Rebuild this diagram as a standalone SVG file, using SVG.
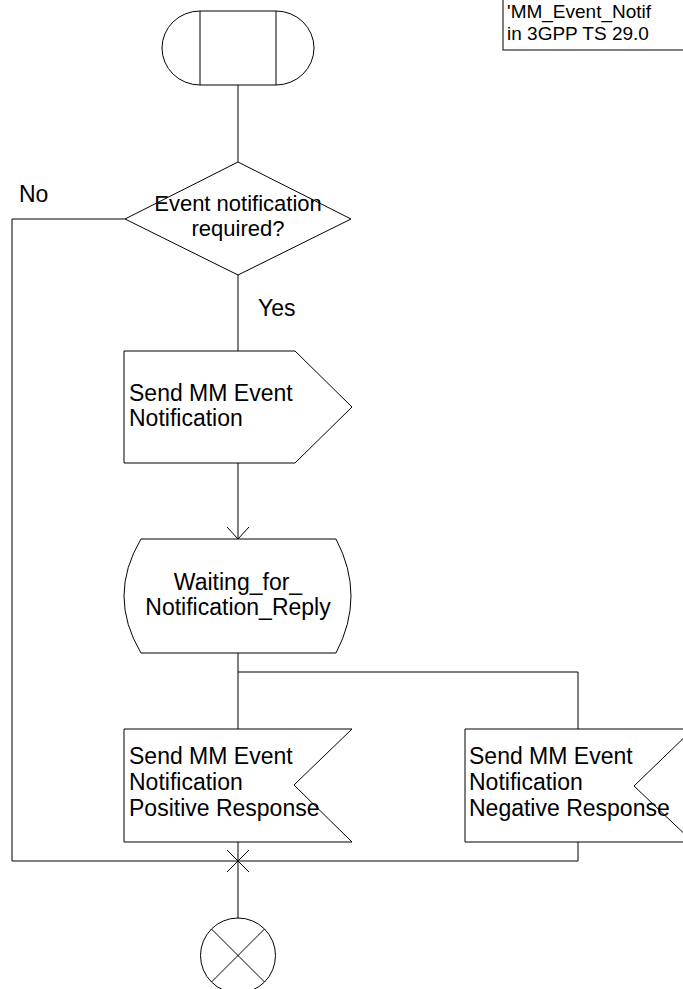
<svg xmlns="http://www.w3.org/2000/svg" width="683" height="989" viewBox="0 0 683 989">
<style>
.s{fill:#fff;stroke:#000;stroke-width:1}
.l{fill:none;stroke:#000;stroke-width:1}
.t{font-family:"Liberation Sans",Arial,sans-serif;font-size:23px;fill:#000}
.d{font-family:"Liberation Sans",Arial,sans-serif;font-size:22px;fill:#000}
.n{font-family:"Liberation Sans",Arial,sans-serif;font-size:19px;fill:#000}
.c{text-anchor:middle}
</style>
<rect width="683" height="989" fill="#fff"/>
<g id="connectors">
<line class="l" x1="238" y1="85" x2="238" y2="162"/>
<line class="l" x1="238" y1="275" x2="238" y2="351"/>
<line class="l" x1="238" y1="463" x2="238" y2="539"/>
<polyline class="l" points="227,527 238,539 249,527"/>
<line class="l" x1="238" y1="653" x2="238" y2="729"/>
<polyline class="l" points="238,672 578,672 578,729"/>
<line class="l" x1="578" y1="842" x2="578" y2="861"/>
<line class="l" x1="238" y1="842" x2="238" y2="918"/>
<polyline class="l" points="125,219 12,219 12,861 578,861"/>
<line class="l" x1="227" y1="850" x2="249" y2="872"/>
<line class="l" x1="249" y1="850" x2="227" y2="872"/>
<text class="t" x="19" y="202">No</text>
<text class="t" x="258" y="316">Yes</text>
</g>
<g id="note">
<rect class="s" x="503" y="-10" width="200" height="60"/>
<text class="n" x="507" y="18">'MM_Event_Notif</text>
<text class="n" x="507" y="40">in 3GPP TS 29.0</text>
</g>
<g id="start">
<path class="s" d="M200,11 L276,11 A38,37 0 0 1 276,85 L200,85 A38,37 0 0 1 200,11 Z"/>
<line class="l" x1="200" y1="11" x2="200" y2="85"/>
<line class="l" x1="276" y1="11" x2="276" y2="85"/>
</g>
<g id="decision">
<polygon class="s" points="238,162 351,219 238,275 125,219"/>
<text class="d c" x="238" y="211">Event notification</text>
<text class="d c" x="238" y="236">required?</text>
</g>
<g id="send">
<polygon class="s" points="124,351 295,351 352,407 295,463 124,463"/>
<text class="t" x="129" y="401">Send MM Event</text>
<text class="t" x="129" y="426">Notification</text>
</g>
<g id="waiting">
<path class="s" d="M141,539 L336,539 Q366,596 336,653 L141,653 Q107,596 141,539 Z"/>
<text class="t c" x="238" y="590">Waiting_for_</text>
<text class="t c" x="238" y="615">Notification_Reply</text>
</g>
<g id="positive">
<polygon class="s" points="124,729 352,729 294,785 352,842 124,842"/>
<text class="t" x="129" y="764">Send MM Event</text>
<text class="t" x="129" y="790">Notification</text>
<text class="t" x="129" y="816">Positive Response</text>
</g>
<g id="negative">
<polygon class="s" points="465,729 693,729 634,786 693,842 465,842"/>
<text class="t" x="469" y="764">Send MM Event</text>
<text class="t" x="469" y="790">Notification</text>
<text class="t" x="469" y="816">Negative Response</text>
</g>
<g id="stop">
<circle class="s" cx="238" cy="955.5" r="37.5"/>
<line class="l" x1="211.5" y1="929" x2="264.5" y2="982"/>
<line class="l" x1="264.5" y1="929" x2="211.5" y2="982"/>
</g>
</svg>
